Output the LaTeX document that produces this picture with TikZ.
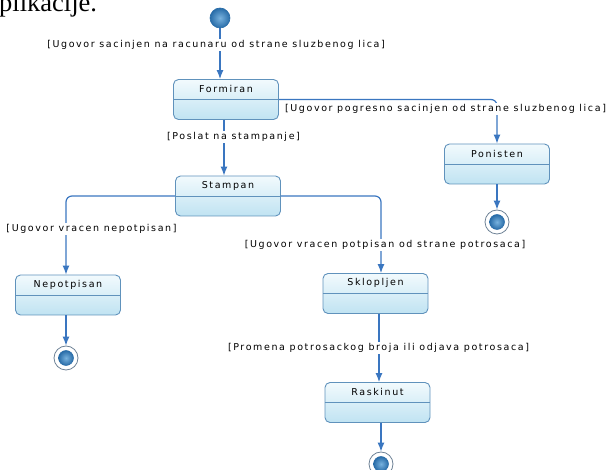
\documentclass[tikz,border=0pt]{standalone}
\usepackage{fontspec}
\setmainfont{DejaVu Sans}
\newfontfamily\lblfont{DejaVu Sans}[LetterSpace=17]
\newfontfamily\serifdoc{Liberation Serif}
\usetikzlibrary{arrows.meta,calc}
\definecolor{lineblue}{RGB}{58,118,192}
\definecolor{boxborder}{RGB}{96,146,188}
\definecolor{boxtop}{RGB}{242,250,253}
\definecolor{boxbot}{RGB}{192,227,242}
\definecolor{ballin}{RGB}{120,178,222}
\definecolor{ballout}{RGB}{40,108,168}
\definecolor{ringcol}{RGB}{110,130,150}
\newcommand\umlstate[4]{%
  \node[statebox] (#1) at (#2,#3) {};
  \draw[boxborder, line width=0.9pt] (#1.west) -- (#1.east);
  \node[titletext] at ($(#1.north)+(0,10)$) {#4};}
\begin{document}
\begin{tikzpicture}[x=1pt,y=-1pt,
  statebox/.style={draw=boxborder, line width=0.9pt, rounded corners=5pt,
    top color=boxtop, bottom color=boxbot,
    minimum width=105pt, minimum height=40pt, inner sep=0pt},
  titletext/.style={font=\lblfont\fontsize{9.5}{11}\selectfont, inner sep=0pt},
  lbl/.style={font=\lblfont\fontsize{9.5}{11}\selectfont, fill=white, inner sep=1pt},
  edge/.style={draw=lineblue, line width=1.2pt, -{Latex[length=9pt,width=7pt]}},
  initst/.style={circle, minimum size=20pt, inner sep=0pt, draw=ballout, line width=0.6pt,
    inner color=ballin, outer color=ballout},
  finalring/.style={circle, draw=ringcol, line width=0.8pt, fill=white, minimum size=24pt, inner sep=0pt},
  finalin/.style={circle, minimum size=15pt, inner sep=0pt, draw=ballout, line width=0.5pt,
    inner color=ballin, outer color=ballout}]
\useasboundingbox (0,0) rectangle (606,470);
\node[anchor=base west, inner sep=0pt, font=\serifdoc\fontsize{26.5}{30}\selectfont] (doc) at (-1,12) {plikacije.};

\node[initst] (init) at (220,18) {};
\umlstate{formiran}{226}{99.5}{Formiran}
\umlstate{ponisten}{497}{164}{Ponisten}
\umlstate{stampan}{228}{196}{Stampan}
\umlstate{nepotpisan}{68}{295}{Nepotpisan}
\umlstate{sklopljen}{375.5}{293.5}{Sklopljen}
\umlstate{raskinut}{377.5}{402.5}{Raskinut}

\node[finalring] (final1) at (497,222) {};
\node[finalin] (final1in) at (final1) {};
\node[finalring] (final2) at (66,358) {};
\node[finalin] (final2in) at (final2) {};
\node[finalring] (final3) at (381,464) {};
\node[finalin] (final3in) at (final3) {};

\draw[edge] (init.south) -- (init.south |- formiran.north);
\draw[edge] ([xshift=-2pt]formiran.south) -- ([xshift=-2pt]formiran.south |- stampan.north);
\draw[edge, rounded corners=6pt] (formiran.east) -| (ponisten.north);
\draw[edge] (ponisten.south) -- (final1.north);
\draw[edge, rounded corners=6pt] (stampan.west) -| ([xshift=-2pt]nepotpisan.north);
\draw[edge, rounded corners=6pt] (stampan.east) -| ([xshift=5.5pt]sklopljen.north);
\draw[edge] ([xshift=3.5pt]sklopljen.south) -- ([xshift=3.5pt]sklopljen.south |- raskinut.north);
\draw[edge] (final3 |- raskinut.south) -- (final3.north);
\draw[edge] (final2 |- nepotpisan.south) -- (final2.north);

\node[lbl] (l1) at (216,45) {[Ugovor sacinjen na racunaru od strane sluzbenog lica]};
\node[lbl] (l2) at (445.5,109) {[Ugovor pogresno sacinjen od strane sluzbenog lica]};
\node[lbl] (l3) at (233.5,137) {[Poslat na stampanje]};
\node[lbl] (l4) at (91.5,229) {[Ugovor vracen nepotpisan]};
\node[lbl] (l5) at (385,245) {[Ugovor vracen potpisan od strane potrosaca]};
\node[lbl] (l6) at (378.5,348) {[Promena potrosackog broja ili odjava potrosaca]};
\end{tikzpicture}
\end{document}
